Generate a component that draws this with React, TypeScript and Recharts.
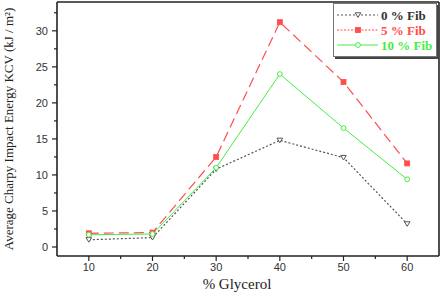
import { LineChart, Line, XAxis, YAxis, ReferenceLine } from "recharts";

const glycerol = [10, 20, 30, 40, 50, 60];
const fib0 = [1.0, 1.3, 10.8, 14.8, 12.4, 3.2];
const fib5 = [1.9, 2.0, 12.5, 31.2, 22.9, 11.6];
const fib10 = [1.7, 1.8, 11.0, 24.0, 16.5, 9.4];

const xTicks = [10, 15, 20, 25, 30, 35, 40, 45, 50, 55, 60];
const yTicks = [0, 2.5, 5, 7.5, 10, 12.5, 15, 17.5, 20, 22.5, 25, 27.5, 30, 32.5];

const data = glycerol.map((g, i) => ({ g, fib0: fib0[i], fib5: fib5[i], fib10: fib10[i] }));

const GRAY = "#555555";
const RED = "#ff4d4d";
const GREEN = "#44ee44";
const AXIS = "#222222";
const SANS = "'Liberation Sans', Arial, sans-serif";
const SERIF = "'Liberation Serif', 'Times New Roman', serif";

const YTick = ({ x, y, payload }: any) => {
  const major = payload.value % 5 === 0;
  return (
    <g>
      <line x1={x} x2={x - (major ? 5 : 3)} y1={y} y2={y} stroke={AXIS} strokeWidth={1.2} />
      {major && (
        <text x={x - 9} y={y} dy={4} textAnchor="end" fill="#333" style={{ fontFamily: SANS, fontSize: 11 }}>
          {payload.value}
        </text>
      )}
    </g>
  );
};

const XTick = ({ x, y, payload }: any) => {
  const major = payload.value % 10 === 0;
  return (
    <g>
      <line x1={x} x2={x} y1={y} y2={y + (major ? 5 : 3)} stroke={AXIS} strokeWidth={1.2} />
      {major && (
        <text x={x} y={y + 15} textAnchor="middle" fill="#333" style={{ fontFamily: SANS, fontSize: 11 }}>
          {payload.value}
        </text>
      )}
    </g>
  );
};

const TriangleDot = ({ cx, cy }: any) => (
  <path d={`M${cx - 2.8},${cy - 2.2} L${cx + 2.8},${cy - 2.2} L${cx},${cy + 2.4} Z`} fill="#fff" stroke={GRAY} strokeWidth={1} />
);

const SquareDot = ({ cx, cy }: any) => (
  <rect x={cx - 2.5} y={cy - 2.5} width={5} height={5} fill={RED} stroke={RED} strokeWidth={0.8} />
);

const CircleDot = ({ cx, cy }: any) => (
  <circle cx={cx} cy={cy} r={2.4} fill="#fff" stroke={GREEN} strokeWidth={1} />
);

const legendItems = [
  { name: "0 % Fib", color: GRAY, text: "#333", dash: "2 2", Dot: TriangleDot },
  { name: "5 % Fib", color: RED, text: RED, dash: "2 1.5", Dot: SquareDot },
  { name: "10 % Fib", color: GREEN, text: GREEN, dash: undefined, Dot: CircleDot },
];

export default function App() {
  return (
    <div style={{ position: "absolute", left: 0, top: 0, width: 442, height: 295, background: "#fff" }}>
      <LineChart width={442} height={295} data={data} margin={{ top: 2, right: 3, bottom: 0, left: 0 }}>
        <XAxis
          dataKey="g"
          type="number"
          domain={[5, 65]}
          ticks={xTicks}
          interval={0}
          height={39}
          tickSize={0}
          tickMargin={0}
          tickLine={false}
          tick={<XTick />}
          axisLine={{ stroke: AXIS, strokeWidth: 1.6 }}
          label={{ value: "% Glycerol", position: "insideBottom", offset: 6, dx: -11, fill: "#222", style: { fontFamily: SERIF, fontSize: 15 } }}
        />
        <YAxis
          type="number"
          domain={[-1.25, 34]}
          ticks={yTicks}
          interval={0}
          width={57}
          tickSize={0}
          tickMargin={0}
          tickLine={false}
          tick={<YTick />}
          axisLine={{ stroke: AXIS, strokeWidth: 1.6 }}
          label={{ value: "Average Charpy Impact Energy KCV (kJ / m²)", angle: -90, position: "insideLeft", offset: 8, fill: "#222", style: { textAnchor: "middle", fontFamily: SERIF, fontSize: 13 } }}
        />
        <ReferenceLine y={34} stroke={AXIS} strokeWidth={1.6} />
        <ReferenceLine x={65} stroke={AXIS} strokeWidth={1.6} />
        <Line dataKey="fib0" stroke={GRAY} strokeWidth={1.2} strokeDasharray="2 2" dot={<TriangleDot />} isAnimationActive={false} />
        <Line dataKey="fib5" stroke={RED} strokeWidth={1.2} strokeDasharray="10 5" dot={<SquareDot />} isAnimationActive={false} />
        <Line dataKey="fib10" stroke={GREEN} strokeWidth={1} dot={<CircleDot />} isAnimationActive={false} />
      </LineChart>
      <div
        style={{
          position: "absolute",
          left: 333,
          top: 3,
          width: 102,
          height: 52,
          border: "1px solid #777",
          boxShadow: "2px 2px 0 #444",
          background: "#fff",
        }}
      >
        <svg width={102} height={52} style={{ position: "absolute", left: 0, top: 0 }}>
          {legendItems.map((it, i) => {
            const cy = 11 + i * 15;
            return (
              <g key={it.name}>
                <line x1={3} x2={44} y1={cy} y2={cy} stroke={it.color} strokeWidth={1.2} strokeDasharray={it.dash} />
                <it.Dot cx={24} cy={cy} />
                <text x={47} y={cy} dy={4.5} fill={it.text} style={{ fontFamily: SERIF, fontSize: 13, fontWeight: 700 }}>
                  {it.name}
                </text>
              </g>
            );
          })}
        </svg>
      </div>
    </div>
  );
}
